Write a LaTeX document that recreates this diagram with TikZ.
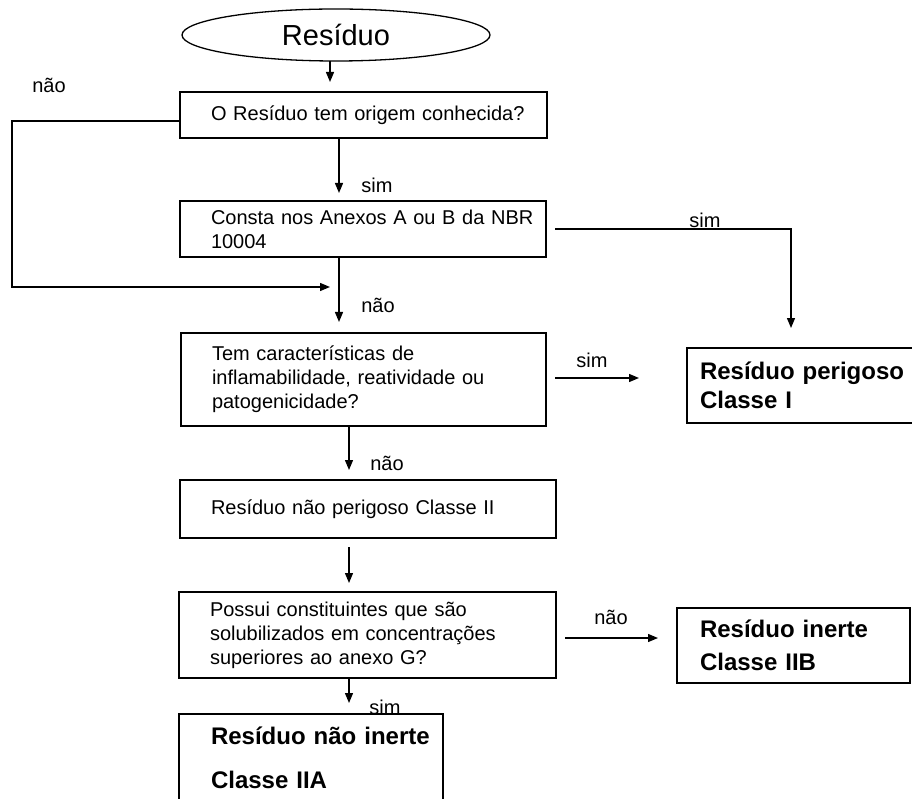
\documentclass[tikz,border=0pt]{standalone}
\usepackage{fontspec}
\setmainfont{Liberation Sans}
\usetikzlibrary{arrows.meta,shapes.geometric}
\begin{document}
\begin{tikzpicture}[x=1pt,y=-1pt,
  every node/.style={inner sep=0pt, outer sep=0pt},
  box/.style={draw, line width=1.3pt, rectangle, align=left, font=\fontsize{20}{24}\selectfont},
  bbox/.style={draw, line width=1.3pt, rectangle, align=left, font=\fontsize{24}{29}\selectfont\bfseries},
  arr/.style={line width=1.3pt, -{Triangle[length=10pt,width=8pt]}},
  lbl/.style={font=\fontsize{20}{24}\selectfont}]
\useasboundingbox (0,0) rectangle (912,799);
\clip (0,0) rectangle (912,799);
\fill[white] (0,0) rectangle (912,799);

% nodes
\node[draw, ellipse, line width=1.3pt, minimum width=308pt, minimum height=52pt,
      font=\fontsize{29}{33}\selectfont] (e) at (336,35) {Resíduo};
\node[box, minimum width=367pt, minimum height=46pt, text width=305pt] (b1) at (363.5,115)
  {\mbox{O Resíduo tem origem conhecida?}};
\node[box, minimum width=366pt, minimum height=56pt, text width=304pt] (b2) at (363,229)
  {\mbox{Consta nos Anexos A ou B da NBR}\\10004};
\node[box, minimum width=365pt, minimum height=93pt, text width=303pt] (b3) at (363.5,379.5)
  {\mbox{Tem características de}\\\mbox{inflamabilidade, reatividade ou}\\\mbox{patogenicidade?}};
\node[bbox, minimum width=248pt, minimum height=75pt, text width=222pt] (c1) at (811,385.5)
  {\mbox{Resíduo perigoso}\\Classe I};
\node[box, minimum width=376pt, minimum height=58pt, text width=314pt] (b4) at (368,509)
  {\mbox{Resíduo não perigoso Classe II}};
\node[box, minimum width=377pt, minimum height=86pt, text width=315pt] (b5) at (367.5,635)
  {\mbox{Possui constituintes que são}\\\mbox{solubilizados em concentrações}\\\mbox{superiores ao anexo G?}};
\node[bbox, minimum width=264pt, minimum height=88pt, text width=200pt] (b6) at (311,758)
  {\mbox{Resíduo não inerte}\\[15pt]Classe IIA};
\node[bbox, minimum width=233pt, minimum height=75pt, text width=187pt] (b7) at (793.5,645.5)
  {\mbox{Resíduo inerte}\\[4pt]Classe IIB};

% labels
\node[lbl] (l0) at (49,85) {não};
\node[lbl] (l1) at (377,185) {sim};
\node[lbl] (l2) at (378,305) {não};
\node[lbl] (l3) at (705,220) {sim};
\node[lbl] (l4) at (592,360) {sim};
\node[lbl] (l5) at (387,463) {não};
\node[lbl] (l6) at (385,707) {sim};
\node[lbl] (l7) at (611,617) {não};

% connectors
\coordinate (lc) at (12,287);
\coordinate (lj) at (330,287);
\draw[arr, shorten >=10pt] ([xshift=-6pt]e.south) -- ([xshift=-6pt]e.south |- b1.north);
\draw[arr, shorten >=8pt] ([xshift=-24.5pt]b1.south) -- ([xshift=-24.5pt]b1.south |- b2.north);
\draw[arr] ([yshift=-6pt]b1.west) -| (lc) -- (lj);
\draw[arr, shorten >=11pt] ([xshift=-24pt]b2.south) -- ([xshift=-24pt]b2.south |- b3.north);
\draw[arr, shorten <=9pt, shorten >=20pt] (b2.east) -| ([xshift=-20pt]c1.north);
\draw[arr, shorten <=9pt, shorten >=48pt] ([yshift=1.5pt]b3.east) -- ([yshift=1.5pt]b3.east -| c1.west);
\draw[arr, shorten >=10pt] ([xshift=-14.5pt]b3.south) -- ([xshift=-14.5pt]b3.south |- b4.north);
\draw[arr, shorten <=9pt, shorten >=9pt] ([xshift=-19pt]b4.south) -- ([xshift=-19pt]b4.south |- b5.north);
\draw[arr, shorten >=11pt] ([xshift=-18.5pt]b5.south) -- ([xshift=-18.5pt]b5.south |- b6.north);
\draw[arr, shorten <=9pt, shorten >=19pt] ([yshift=-3pt]b5.east) -- ([yshift=-3pt]b5.east -| b7.west);
\end{tikzpicture}
\end{document}
